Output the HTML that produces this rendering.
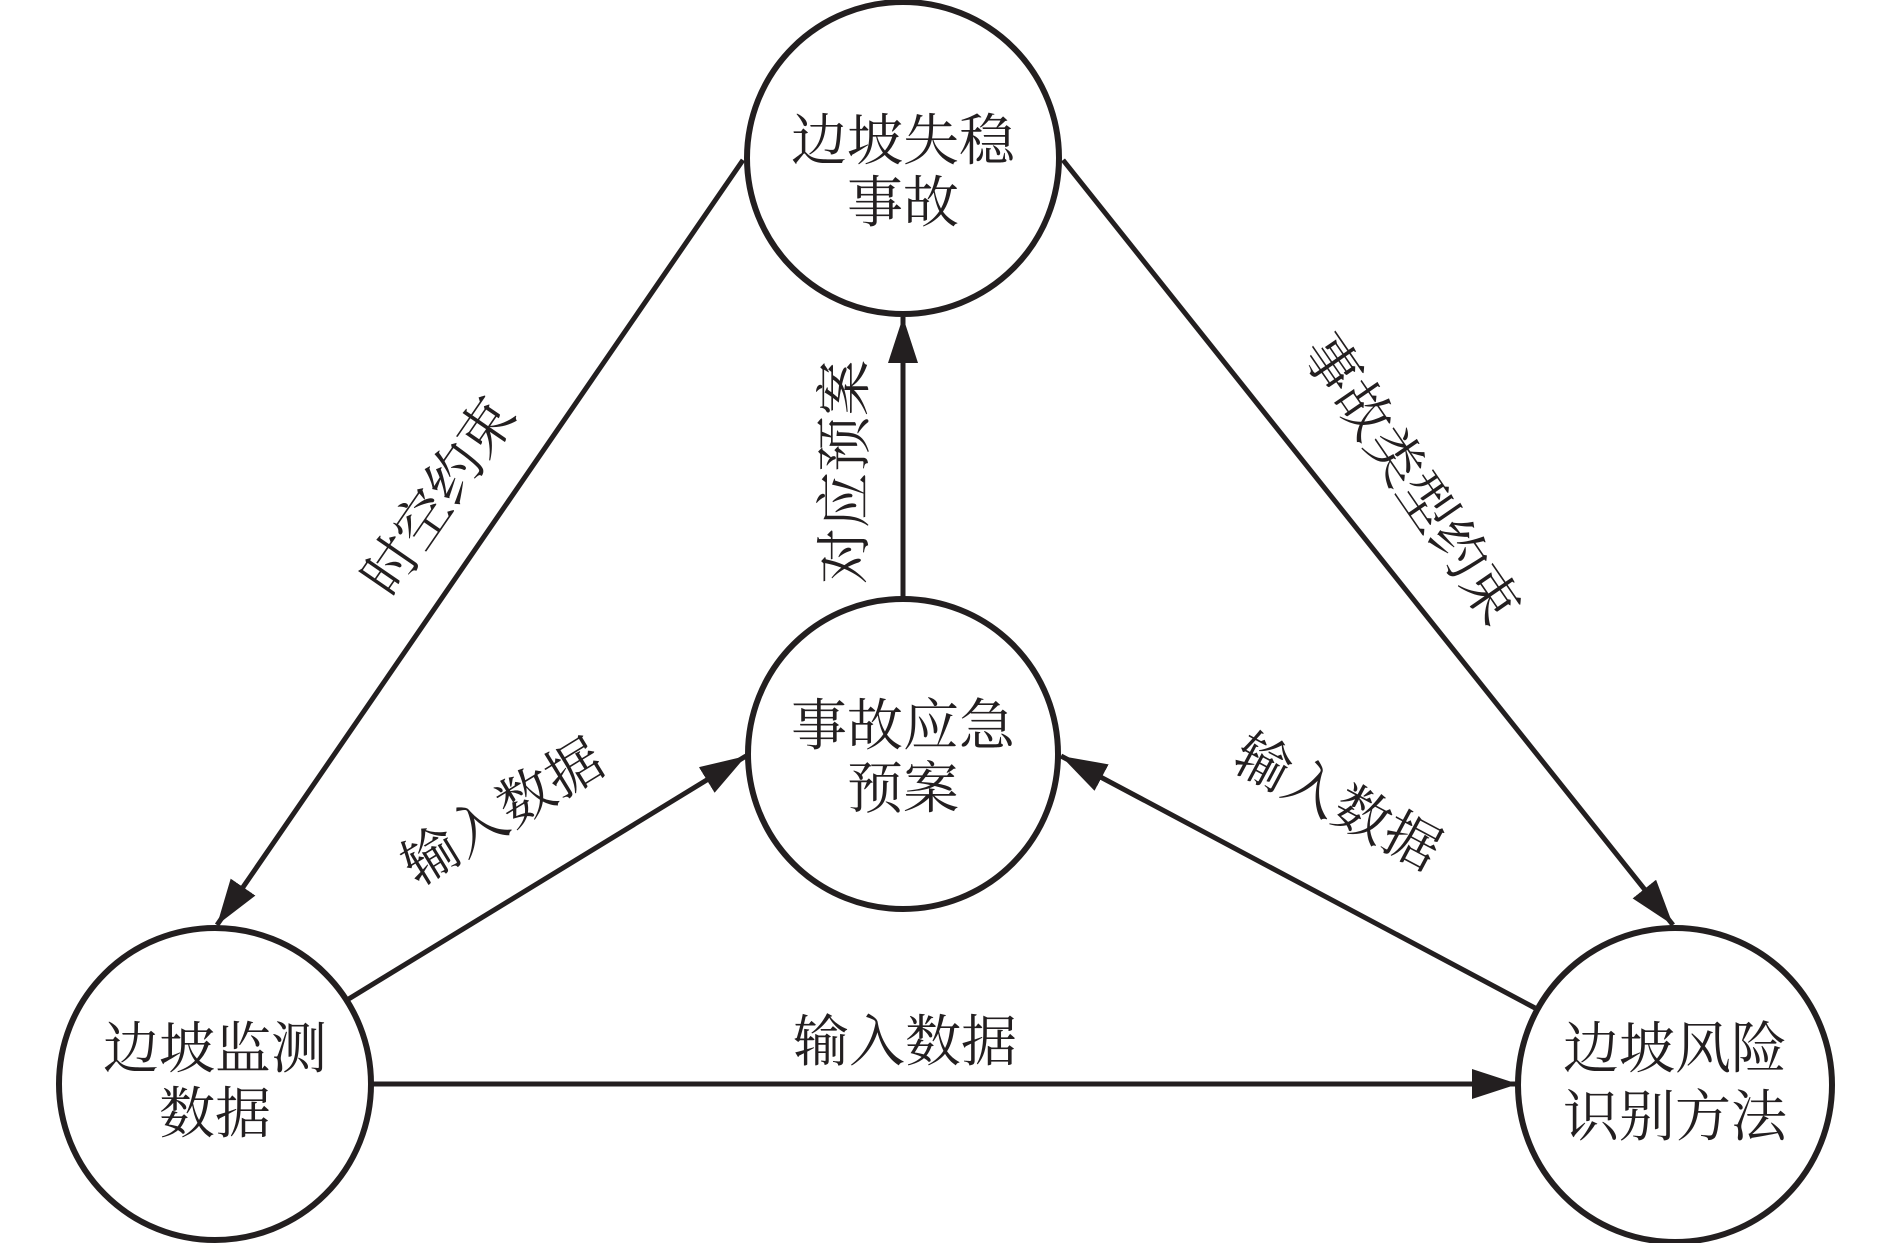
<!DOCTYPE html>
<html><head><meta charset="utf-8"><style>
html,body{margin:0;padding:0;background:#fff;}
svg{display:block;}
text{font-family:"Liberation Serif","Noto Serif CJK SC",serif;fill:#231f20;font-size:56px;text-anchor:middle;dominant-baseline:central;}
</style></head><body>
<svg width="1890" height="1243" viewBox="0 0 1890 1243" xmlns="http://www.w3.org/2000/svg">
<defs>
<marker id="ah" markerUnits="userSpaceOnUse" markerWidth="46" markerHeight="30" refX="46" refY="15" orient="auto">
<path d="M0,0 L46,15 L0,30 Z" fill="#231f20"/>
</marker>
</defs>
<g stroke="#231f20" stroke-width="5" fill="none">
<line x1="743" y1="160" x2="217" y2="925" marker-end="url(#ah)"/>
<line x1="1063" y1="160" x2="1673" y2="925" marker-end="url(#ah)"/>
<line x1="903" y1="599" x2="903" y2="317" marker-end="url(#ah)"/>
<line x1="347" y1="1000" x2="746" y2="756" marker-end="url(#ah)"/>
<line x1="1535" y1="1008" x2="1061" y2="756" marker-end="url(#ah)"/>
<line x1="370" y1="1084" x2="1518" y2="1084" marker-end="url(#ah)"/>
</g>
<g stroke="#231f20" stroke-width="6" fill="#fff">
<circle cx="903" cy="158" r="156"/>
<circle cx="903" cy="754" r="155"/>
<circle cx="215" cy="1084" r="156"/>
<circle cx="1675" cy="1085" r="157"/>
</g>
<text x="903" y="142">边坡失稳</text>
<text x="903" y="204">事故</text>
<text x="903" y="727">事故应急</text>
<text x="903" y="790">预案</text>
<text x="215" y="1050">边坡监测</text>
<text x="215" y="1115">数据</text>
<text x="1675" y="1050">边坡风险</text>
<text x="1675" y="1118">识别方法</text>
<text x="905" y="1043">输入数据</text>
<text transform="translate(846,472) rotate(-90)">对应预案</text>
<text transform="translate(440,497) rotate(-55.5)">时空约束</text>
<text transform="translate(1410,480) rotate(55.5)">事故类型约束</text>
<text transform="translate(503,813) rotate(-31.5)">输入数据</text>
<text transform="translate(1337,803) rotate(28)">输入数据</text>
</svg>
</body></html>
